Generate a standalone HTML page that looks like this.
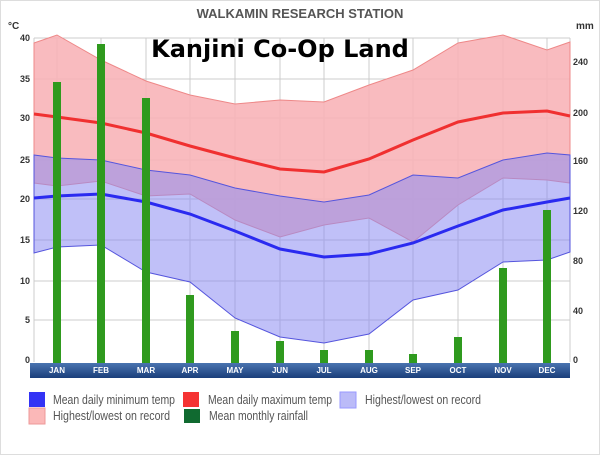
<!DOCTYPE html><html><head><style>body{margin:0;background:#fff}svg{display:block}text{font-family:"Liberation Sans",sans-serif}</style></head><body>
<svg width="600" height="455" viewBox="0 0 600 455">
<rect x="0.5" y="0.5" width="599" height="454" fill="#fff" stroke="#ddd"/>
<text x="300" y="18" text-anchor="middle" font-size="13" font-weight="bold" fill="#555">WALKAMIN RESEARCH STATION</text>
<text x="8" y="29" font-size="10" font-weight="bold" fill="#333">°C</text>
<text x="576" y="29" font-size="10" font-weight="bold" fill="#333">mm</text>
<g stroke="#ccc" stroke-width="1">
<line x1="34" y1="38" x2="570" y2="38"/><line x1="34" y1="79" x2="570" y2="79"/><line x1="34" y1="118" x2="570" y2="118"/><line x1="34" y1="160" x2="570" y2="160"/><line x1="34" y1="199" x2="570" y2="199"/><line x1="34" y1="240" x2="570" y2="240"/><line x1="34" y1="281" x2="570" y2="281"/><line x1="34" y1="320" x2="570" y2="320"/>
<line x1="34" y1="38" x2="34" y2="362"/><line x1="570" y1="38" x2="570" y2="362"/>
<line x1="57" y1="38" x2="57" y2="362"/><line x1="101" y1="38" x2="101" y2="362"/><line x1="146" y1="38" x2="146" y2="362"/><line x1="190" y1="38" x2="190" y2="362"/><line x1="235" y1="38" x2="235" y2="362"/><line x1="280" y1="38" x2="280" y2="362"/><line x1="324" y1="38" x2="324" y2="362"/><line x1="369" y1="38" x2="369" y2="362"/><line x1="413" y1="38" x2="413" y2="362"/><line x1="458" y1="38" x2="458" y2="362"/><line x1="503" y1="38" x2="503" y2="362"/><line x1="547" y1="38" x2="547" y2="362"/>
</g>
<polygon fill="#f8b4b8" fill-opacity="0.9" stroke="#e88" stroke-width="1" points="34,43 57,35 101,60 146,81 190,95 235,104 280,100 324,102 369,85 413,70 458,43 503,35 547,50 570,42 570,183 547,180 503,178 458,205 413,242 369,218 324,225 280,237 235,220 190,194 146,196 101,181 57,186 34,183"/>
<polygon fill="#8c8cf2" fill-opacity="0.55" stroke="#55d" stroke-width="1" points="34,155 57,158 101,160 146,170 190,175 235,188 280,196 324,202 369,195 413,175 458,178 503,160 547,153 570,155 570,252 547,260 503,262 458,290 413,300 369,334 324,343 280,337 235,318 190,282 146,272 101,245 57,247 34,253"/>
<polyline fill="none" stroke="#f03030" stroke-width="3" points="34,114 57,117 101,123 146,133 190,146 235,158 280,169 324,172 369,159 413,140 458,122 503,113 547,111 570,116"/>
<polyline fill="none" stroke="#2a2af0" stroke-width="3" points="34,198 57,196 101,194 146,202 190,214 235,231 280,249 324,257 369,254 413,243 458,226 503,210 547,202 570,198"/>
<g fill="#2f9a1e">
<rect x="53" y="82" width="8" height="281"/><rect x="97" y="44" width="8" height="319"/><rect x="142" y="98" width="8" height="265"/><rect x="186" y="295" width="8" height="68"/><rect x="231" y="331" width="8" height="32"/><rect x="276" y="341" width="8" height="22"/><rect x="320" y="350" width="8" height="13"/><rect x="365" y="350" width="8" height="13"/><rect x="409" y="354" width="8" height="9"/><rect x="454" y="337" width="8" height="26"/><rect x="499" y="268" width="8" height="95"/><rect x="543" y="210" width="8" height="153"/>
</g>
<text x="280" y="57" text-anchor="middle" font-size="24" font-weight="bold" fill="#000" style="font-family:'DejaVu Sans',sans-serif">Kanjini Co-Op Land</text>
<defs><linearGradient id="g" x1="0" y1="0" x2="0" y2="1"><stop offset="0" stop-color="#4a74b0"/><stop offset="1" stop-color="#1a3e7a"/></linearGradient></defs>
<rect x="30" y="363" width="540" height="15" fill="url(#g)"/>
<g font-size="8" font-weight="bold" fill="#fff" text-anchor="middle">
<text x="57" y="373">JAN</text><text x="101" y="373">FEB</text><text x="146" y="373">MAR</text><text x="190" y="373">APR</text><text x="235" y="373">MAY</text><text x="280" y="373">JUN</text><text x="324" y="373">JUL</text><text x="369" y="373">AUG</text><text x="413" y="373">SEP</text><text x="458" y="373">OCT</text><text x="503" y="373">NOV</text><text x="547" y="373">DEC</text>
</g>
<g font-size="9" font-weight="bold" fill="#333" text-anchor="end">
<text x="30" y="41">40</text><text x="30" y="82">35</text><text x="30" y="121">30</text><text x="30" y="163">25</text><text x="30" y="202">20</text><text x="30" y="243">15</text><text x="30" y="284">10</text><text x="30" y="323">5</text><text x="30" y="363">0</text>
</g>
<g font-size="9" font-weight="bold" fill="#333">
<text x="573" y="65">240</text><text x="573" y="116">200</text><text x="573" y="164">160</text><text x="573" y="214">120</text><text x="573" y="264">80</text><text x="573" y="314">40</text><text x="573" y="363">0</text>
</g>
<g font-size="12.5" fill="#555">
<rect x="29" y="392" width="16" height="15" fill="#3333f5"/><text x="53" y="404" textLength="122" lengthAdjust="spacingAndGlyphs">Mean daily minimum temp</text>
<rect x="183" y="392" width="16" height="15" fill="#f53333"/><text x="208" y="404" textLength="124" lengthAdjust="spacingAndGlyphs">Mean daily maximum temp</text>
<rect x="340" y="392" width="16" height="16" fill="#bbbbf8" stroke="#99f"/><text x="365" y="404" textLength="116" lengthAdjust="spacingAndGlyphs">Highest/lowest on record</text>
<rect x="29" y="408" width="16" height="16" fill="#fbb8b8" stroke="#e99"/><text x="53" y="420" textLength="117" lengthAdjust="spacingAndGlyphs">Highest/lowest on record</text>
<rect x="184" y="409" width="16" height="14" fill="#106a30"/><text x="209" y="420" textLength="99" lengthAdjust="spacingAndGlyphs">Mean monthly rainfall</text>
</g>
</svg></body></html>
